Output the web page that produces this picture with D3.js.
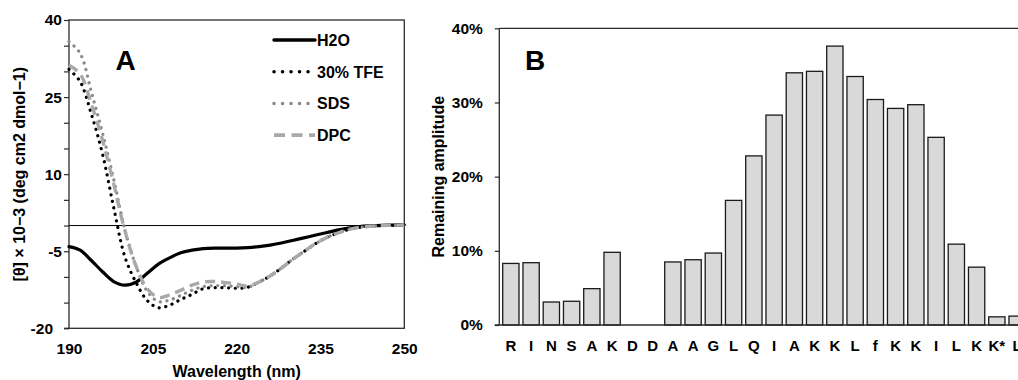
<!DOCTYPE html>
<html>
<head>
<meta charset="utf-8">
<script src="https://cdn.jsdelivr.net/npm/d3@7"></script>
<style>
  body { margin: 0; background: #fff; }
  svg { display: block; font-family: "Liberation Sans", Arial, sans-serif; font-weight: bold; }
</style>
</head>
<body>
<svg id="chart" width="1018" height="380"></svg>
<script>
// ---- panel A: CD spectra, read every 2 nm ----
const wavelength = d3.range(190, 251, 2);
const h2o = [-4.1, -4.8, -6.8, -9.0, -10.9, -11.6, -11.0, -9.3, -7.5, -6.3, -5.3, -4.8, -4.5, -4.4, -4.4, -4.4,
             -4.3, -4.1, -3.8, -3.4, -2.9, -2.4, -1.9, -1.4, -0.9, -0.5, -0.2, -0.05, 0.05, 0.1, 0.15];
const tfe = [30.4, 28.0, 21.7, 13.9, 3.5, -6.1, -11.1, -14.6, -16.0, -15.5, -14.4, -13.4, -12.3, -12.1, -12.1, -12.2,
             -12.0, -11.0, -9.8, -8.3, -6.6, -5.1, -3.6, -2.4, -1.5, -0.8, -0.35, -0.15, 0.0, 0.05, 0.1];
const sds = [35.8, 33.5, 26.0, 18.0, 9.0, -0.8, -7.9, -12.8, -14.8, -14.5, -13.6, -12.6, -11.9, -11.7, -11.7, -11.9,
             -12.0, -11.0, -9.8, -8.3, -6.6, -5.1, -3.6, -2.4, -1.5, -0.8, -0.35, -0.15, 0.0, 0.05, 0.1];
const dpc = [31.2, 29.5, 23.7, 16.6, 8.1, -1.0, -7.9, -12.3, -14.0, -13.5, -12.6, -11.6, -11.0, -10.9, -11.1, -11.4,
             -11.8, -11.0, -9.8, -8.3, -6.6, -5.1, -3.6, -2.4, -1.5, -0.8, -0.35, -0.15, 0.0, 0.05, 0.1];
const seriesNames = ["H2O", "30% TFE", "SDS", "DPC"];
const xTicksA = [190, 205, 220, 235, 250];
const yTicksA = [-20, -5, 10, 25, 40];

// ---- panel B: remaining amplitude per residue ----
const residues = ["R", "I", "N", "S", "A", "K", "D", "D", "A", "A", "G", "L", "Q", "I", "A", "K", "K", "L",
                  "f", "K", "K", "I", "L", "K", "K*", "L"];
const amplitude = [0.083, 0.084, 0.031, 0.032, 0.049, 0.098, 0, 0, 0.085, 0.088, 0.097, 0.168, 0.228, 0.283,
                   0.340, 0.342, 0.376, 0.335, 0.304, 0.292, 0.297, 0.253, 0.109, 0.078, 0.011, 0.012];
const yTicksB = [0, 0.1, 0.2, 0.3, 0.4];

const svg = d3.select("#chart");
const axisColor = "#2b2b2b";

// ================= panel A =================
const A = { left: 69, right: 404.3, top: 20, bottom: 328.3 };
const xA = d3.scaleLinear().domain([190, 250]).range([A.left, A.right]);
const yA = d3.scaleLinear().domain([-20, 40]).range([A.bottom, A.top]);

const gA = svg.append("g");

// y axis with minor ticks every 5
const yAxisA = gA.append("g")
    .attr("transform", `translate(${A.left},0)`)
    .call(d3.axisLeft(yA).tickValues(d3.range(-20, 41, 5)).tickSize(5).tickPadding(2)
      .tickFormat(d => yTicksA.includes(d) ? d : ""));
yAxisA.select(".domain").remove();
yAxisA.selectAll("line").attr("stroke", axisColor).attr("stroke-width", 1.2);
yAxisA.selectAll("text").attr("font-size", 15.5).attr("font-family", null).attr("fill", "#000")
    .attr("dx", d => d === -20 ? -9 : 0);

const xAxisA = gA.append("g")
    .attr("transform", `translate(0,${A.bottom})`)
    .call(d3.axisBottom(xA).tickValues(xTicksA).tickSize(0).tickPadding(15));
xAxisA.select(".domain").remove();
xAxisA.selectAll("text").attr("font-size", 15.5).attr("font-family", null).attr("fill", "#000");

// frame and zero line
gA.append("rect")
    .attr("x", A.left).attr("y", A.top)
    .attr("width", A.right - A.left).attr("height", A.bottom - A.top)
    .attr("fill", "none").attr("stroke", axisColor).attr("stroke-width", 1.3);
gA.append("line")
    .attr("x1", A.left - 5).attr("x2", A.left)
    .attr("y1", A.bottom).attr("y2", A.bottom)
    .attr("stroke", axisColor).attr("stroke-width", 1.3);
gA.append("line")
    .attr("x1", A.left).attr("x2", A.right)
    .attr("y1", yA(0)).attr("y2", yA(0))
    .attr("stroke", "#000").attr("stroke-width", 1);

const styles = [
  { color: "#000000", width: 3.2, dash: null, cap: "round" },
  { color: "#000000", width: 3.2, dash: "0.1 6.6", cap: "round" },
  { color: "#8a8a8a", width: 3.2, dash: "0.1 6.6", cap: "round" },
  { color: "#a9a9a9", width: 3.4, dash: "10 6", cap: "butt" }
];
const allSeries = [h2o, tfe, sds, dpc];

const line = d3.line()
    .x((d, i) => xA(wavelength[i]))
    .y(d => yA(d))
    .curve(d3.curveCatmullRom.alpha(0.5));

allSeries.forEach((s, i) => {
  gA.append("path")
      .datum(s)
      .attr("fill", "none")
      .attr("stroke", styles[i].color)
      .attr("stroke-width", styles[i].width)
      .attr("stroke-dasharray", styles[i].dash)
      .attr("stroke-linecap", styles[i].cap)
      .attr("stroke-linejoin", "round")
      .attr("d", line);
});

// legend
const legend = gA.append("g");
seriesNames.forEach((name, i) => {
  const cy = 40 + i * 31.7;
  legend.append("line")
      .attr("x1", 274).attr("x2", 315)
      .attr("y1", cy).attr("y2", cy)
      .attr("stroke", styles[i].color)
      .attr("stroke-width", styles[i].width + 0.3)
      .attr("stroke-dasharray", i === 3 ? "11 6.5" : (styles[i].dash ? "0.1 8.4" : null))
      .attr("stroke-linecap", styles[i].cap);
  legend.append("text")
      .attr("x", 317).attr("y", cy + 5.8)
      .attr("font-size", 16)
      .text(name);
});

gA.append("text").attr("x", 115.5).attr("y", 70).attr("font-size", 28).text("A");

gA.append("text")
    .attr("x", (A.left + A.right) / 2).attr("y", 376.5)
    .attr("text-anchor", "middle").attr("font-size", 16)
    .text("Wavelength (nm)");
gA.append("text")
    .attr("transform", `translate(25,${(A.top + A.bottom) / 2}) rotate(-90)`)
    .attr("text-anchor", "middle").attr("font-size", 16)
    .text("[θ] × 10−3 (deg cm2 dmol−1)");

// ================= panel B =================
const B = { left: 499.3, top: 28.3, bottom: 325 };
const step = 20.25, padIn = 0.195, padOut = 0.168;
const B_right = B.left + step * (residues.length - padIn + 2 * padOut);

const xB = d3.scaleBand()
    .domain(d3.range(residues.length))
    .range([B.left, B_right])
    .paddingInner(padIn).paddingOuter(padOut);
const yB = d3.scaleLinear().domain([0, 0.4]).range([B.bottom, B.top]);

const gB = svg.append("g");

const yAxisB = gB.append("g")
    .attr("transform", `translate(${B.left},0)`)
    .call(d3.axisLeft(yB).tickValues(yTicksB).tickSize(4.5).tickPadding(12).tickFormat(d3.format(".0%")));
yAxisB.select(".domain").remove();
yAxisB.selectAll("line").attr("stroke", axisColor).attr("stroke-width", 1.2);
yAxisB.selectAll("text").attr("font-size", 15.5).attr("font-family", null).attr("fill", "#000");

gB.selectAll("rect.bar")
    .data(amplitude.map((v, i) => ({ i, v })).filter(d => d.v > 0))
    .join("rect")
    .attr("class", "bar")
    .attr("x", d => xB(d.i))
    .attr("y", d => yB(d.v))
    .attr("width", xB.bandwidth())
    .attr("height", d => yB(0) - yB(d.v))
    .attr("fill", "#d9d9d9")
    .attr("stroke", "#1a1a1a")
    .attr("stroke-width", 1.3);

// axis lines
gB.append("line")
    .attr("x1", B.left).attr("x2", B.left)
    .attr("y1", B.top).attr("y2", B.bottom)
    .attr("stroke", axisColor).attr("stroke-width", 1.3);
gB.append("line")
    .attr("x1", B.left - 4.5).attr("x2", B_right)
    .attr("y1", B.bottom).attr("y2", B.bottom)
    .attr("stroke", axisColor).attr("stroke-width", 1.3);
gB.append("line")
    .attr("x1", B.left).attr("x2", B_right)
    .attr("y1", B.top).attr("y2", B.top)
    .attr("stroke", axisColor).attr("stroke-width", 1.3);

gB.selectAll("text.res")
    .data(residues)
    .join("text")
    .attr("class", "res")
    .attr("x", (d, i) => xB(i) + xB.bandwidth() / 2)
    .attr("y", 350.5)
    .attr("text-anchor", "middle")
    .attr("font-size", 15)
    .text(d => d);

gB.append("text").attr("x", 525).attr("y", 70).attr("font-size", 28).text("B");

gB.append("text")
    .attr("transform", `translate(444,${(B.top + B.bottom) / 2}) rotate(-90)`)
    .attr("text-anchor", "middle").attr("font-size", 16)
    .text("Remaining amplitude");
</script>
</body>
</html>
